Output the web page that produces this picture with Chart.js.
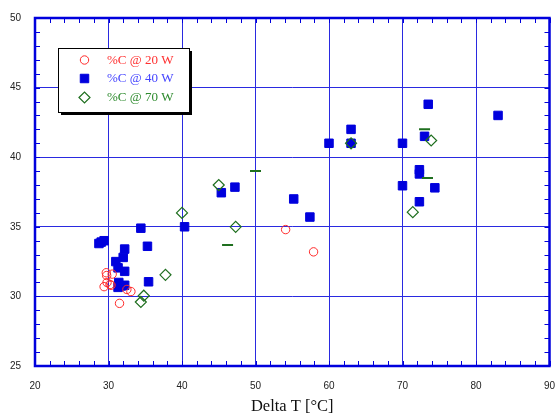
<!DOCTYPE html>
<html>
<head>
<meta charset="utf-8">
<script src="https://cdn.jsdelivr.net/npm/chart.js@4/dist/chart.umd.min.js"></script>
<style>
  html, body { margin: 0; padding: 0; background: #fff; }
  #wrap { position: relative; width: 557px; height: 414px; }
</style>
</head>
<body>
<div id="wrap"><canvas id="chart" width="557" height="414"></canvas></div>
<script>
// ===== DATA =====
const LABELS = ['%C @ 20 W', '%C @ 40 W', '%C @ 70 W'];

const dT20 = [29.7, 29.75, 30.5, 29.8, 30.2, 30.35, 29.4, 32.5, 33.05, 31.5, 54.1, 57.9];
const c20  = [31.7, 31.5, 31.6, 31.0, 30.85, 30.8, 30.7, 30.5, 30.35, 29.5, 34.8, 33.2];

const dT40 = [28.7, 29.0, 29.4, 34.4, 35.3, 32.2, 32.0, 31.0, 31.3, 32.2, 35.45, 31.4, 31.75, 31.3, 32.2,
              40.35, 45.35, 47.2, 55.2, 57.4, 60.0, 63.0, 63.0, 70.0, 73.0, 73.5, 83.0, 72.3, 72.3, 70.0, 74.4, 72.3];
const c40  = [33.8, 33.9, 34.0, 34.9, 33.6, 33.4, 32.8, 32.5, 32.05, 31.8, 31.05, 31.0, 30.75, 30.65, 30.8,
              35.0, 37.45, 37.85, 37.0, 35.7, 41.0, 42.0, 41.0, 41.0, 41.5, 43.8, 43.0, 39.1, 38.8, 37.95, 37.8, 36.8];

const dT70 = [34.4, 34.8, 37.75, 40.0, 45.0, 47.3, 63.0, 71.4, 73.9];
const c70  = [29.6, 30.05, 31.55, 36.0, 38.0, 35.0, 41.0, 36.05, 41.2];

// short green dash marks
const dTDash = [46.2, 50.0, 73.0, 73.4];
const cDash  = [33.7, 39.0, 42.0, 38.5];

const X_TICKS = [20, 30, 40, 50, 60, 70, 80, 90];
const Y_TICKS = [25, 30, 35, 40, 45, 50];

const pts = (xs, ys) => xs.map((x, i) => ({ x: x, y: ys[i] }));

const BLUE = '#0000dd';
const GRID = '#2a2ae0';
const RED = '#ff2a2a';
const GREEN = '#1f6f1f';

// ===== PLUGINS =====
const frame = {
    id: 'frame',
    afterDraw(chart) {
        const { ctx, chartArea: a, scales: { x, y } } = chart;
        ctx.save();
        ctx.strokeStyle = BLUE;
        ctx.lineWidth = 1;
        ctx.beginPath();
        for (let v = 20; v <= 90; v += 2) {
            const px = Math.round(x.getPixelForValue(v)) + 0.5;
            ctx.moveTo(px, a.bottom); ctx.lineTo(px, a.bottom - 5);
            ctx.moveTo(px, a.top); ctx.lineTo(px, a.top + 5);
        }
        for (let v = 25; v <= 50; v += 1) {
            const py = Math.round(y.getPixelForValue(v)) + 0.5;
            ctx.moveTo(a.left, py); ctx.lineTo(a.left + 5, py);
            ctx.moveTo(a.right, py); ctx.lineTo(a.right - 5, py);
        }
        ctx.stroke();
        ctx.lineWidth = 2.5;
        ctx.strokeRect(a.left, a.top, a.right - a.left, a.bottom - a.top);
        ctx.restore();
    }
};

const legendBox = {
    id: 'legendBox',
    afterDraw(chart) {
        const ctx = chart.ctx;
        const bx = 58, by = 48, bw = 131, bh = 64;
        ctx.save();
        ctx.fillStyle = '#000';
        ctx.fillRect(bx + 3, by + 3, bw, bh);
        ctx.fillStyle = '#fff';
        ctx.fillRect(bx, by, bw, bh);
        ctx.strokeStyle = '#000';
        ctx.lineWidth = 1;
        ctx.strokeRect(bx + 0.5, by + 0.5, bw, bh);

        const rows = [60, 78.5, 97.5];
        const textColors = ['#ff3030', '#4545ff', '#2e8b2e'];
        chart.data.datasets.slice(0, 3).forEach((ds, i) => {
            ctx.fillStyle = ds.backgroundColor;
            ctx.strokeStyle = ds.borderColor;
            ctx.lineWidth = ds.borderWidth;
            Chart.helpers.drawPoint(ctx, {
                pointStyle: ds.pointStyle, radius: ds.pointRadius, rotation: 0, borderWidth: ds.borderWidth
            }, 84.5, rows[i]);
            ctx.fillStyle = textColors[i];
            ctx.font = '13px "Liberation Serif", "Times New Roman", serif';
            ctx.textBaseline = 'middle';
            ctx.textAlign = 'left';
            ctx.fillText(LABELS[i], 107, rows[i] + 0.5);
        });
        ctx.restore();
    }
};

// ===== CHART =====
new Chart(document.getElementById('chart'), {
    type: 'scatter',
    data: {
        datasets: [
            { label: LABELS[0], data: pts(dT20, c20), pointStyle: 'circle', pointRadius: 4.2,
              backgroundColor: 'rgba(0,0,0,0)', borderColor: RED, borderWidth: 1, order: 2 },
            { label: LABELS[1], data: pts(dT40, c40), pointStyle: 'rect', pointRadius: 6,
              backgroundColor: BLUE, borderColor: BLUE, borderWidth: 1, order: 3 },
            { label: LABELS[2], data: pts(dT70, c70), pointStyle: 'rectRot', pointRadius: 5.5,
              backgroundColor: 'rgba(0,0,0,0)', borderColor: GREEN, borderWidth: 1.2, order: 1 },
            { label: 'dash', data: pts(dTDash, cDash), pointStyle: 'line', pointRadius: 5.5,
              backgroundColor: GREEN, borderColor: GREEN, borderWidth: 2, order: 0 }
        ]
    },
    options: {
        animation: false,
        responsive: false,
        devicePixelRatio: 1,
        layout: { padding: { top: 18, right: 5, left: 0, bottom: -3 } },
        plugins: { legend: { display: false }, tooltip: { enabled: false } },
        elements: { point: { hoverRadius: 5 } },
        scales: {
            x: {
                type: 'linear', min: 20, max: 90,
                afterBuildTicks: s => { s.ticks = X_TICKS.map(v => ({ value: v })); },
                afterFit: s => { s.height = 51; s.paddingLeft = 0; s.paddingRight = 0; },
                grid: { color: GRID, lineWidth: 1, drawTicks: false },
                border: { display: false },
                ticks: { padding: 14, color: '#222', font: { family: '"Liberation Sans", Arial, sans-serif', size: 10 } },
                title: {
                    display: true, text: 'Delta T [°C]', color: '#111',
                    font: { family: '"Liberation Serif", "Times New Roman", serif', size: 16.5 },
                    padding: { top: 0, bottom: 0 }
                }
            },
            y: {
                type: 'linear', min: 25, max: 50,
                afterBuildTicks: s => { s.ticks = Y_TICKS.map(v => ({ value: v })); },
                afterFit: s => { s.width = 35; s.paddingTop = 0; s.paddingBottom = 0; },
                grid: { color: GRID, lineWidth: 1, drawTicks: false },
                border: { display: false },
                ticks: { padding: 14, color: '#222', font: { family: '"Liberation Sans", Arial, sans-serif', size: 10 } }
            }
        }
    },
    plugins: [frame, legendBox]
});
</script>
</body>
</html>
